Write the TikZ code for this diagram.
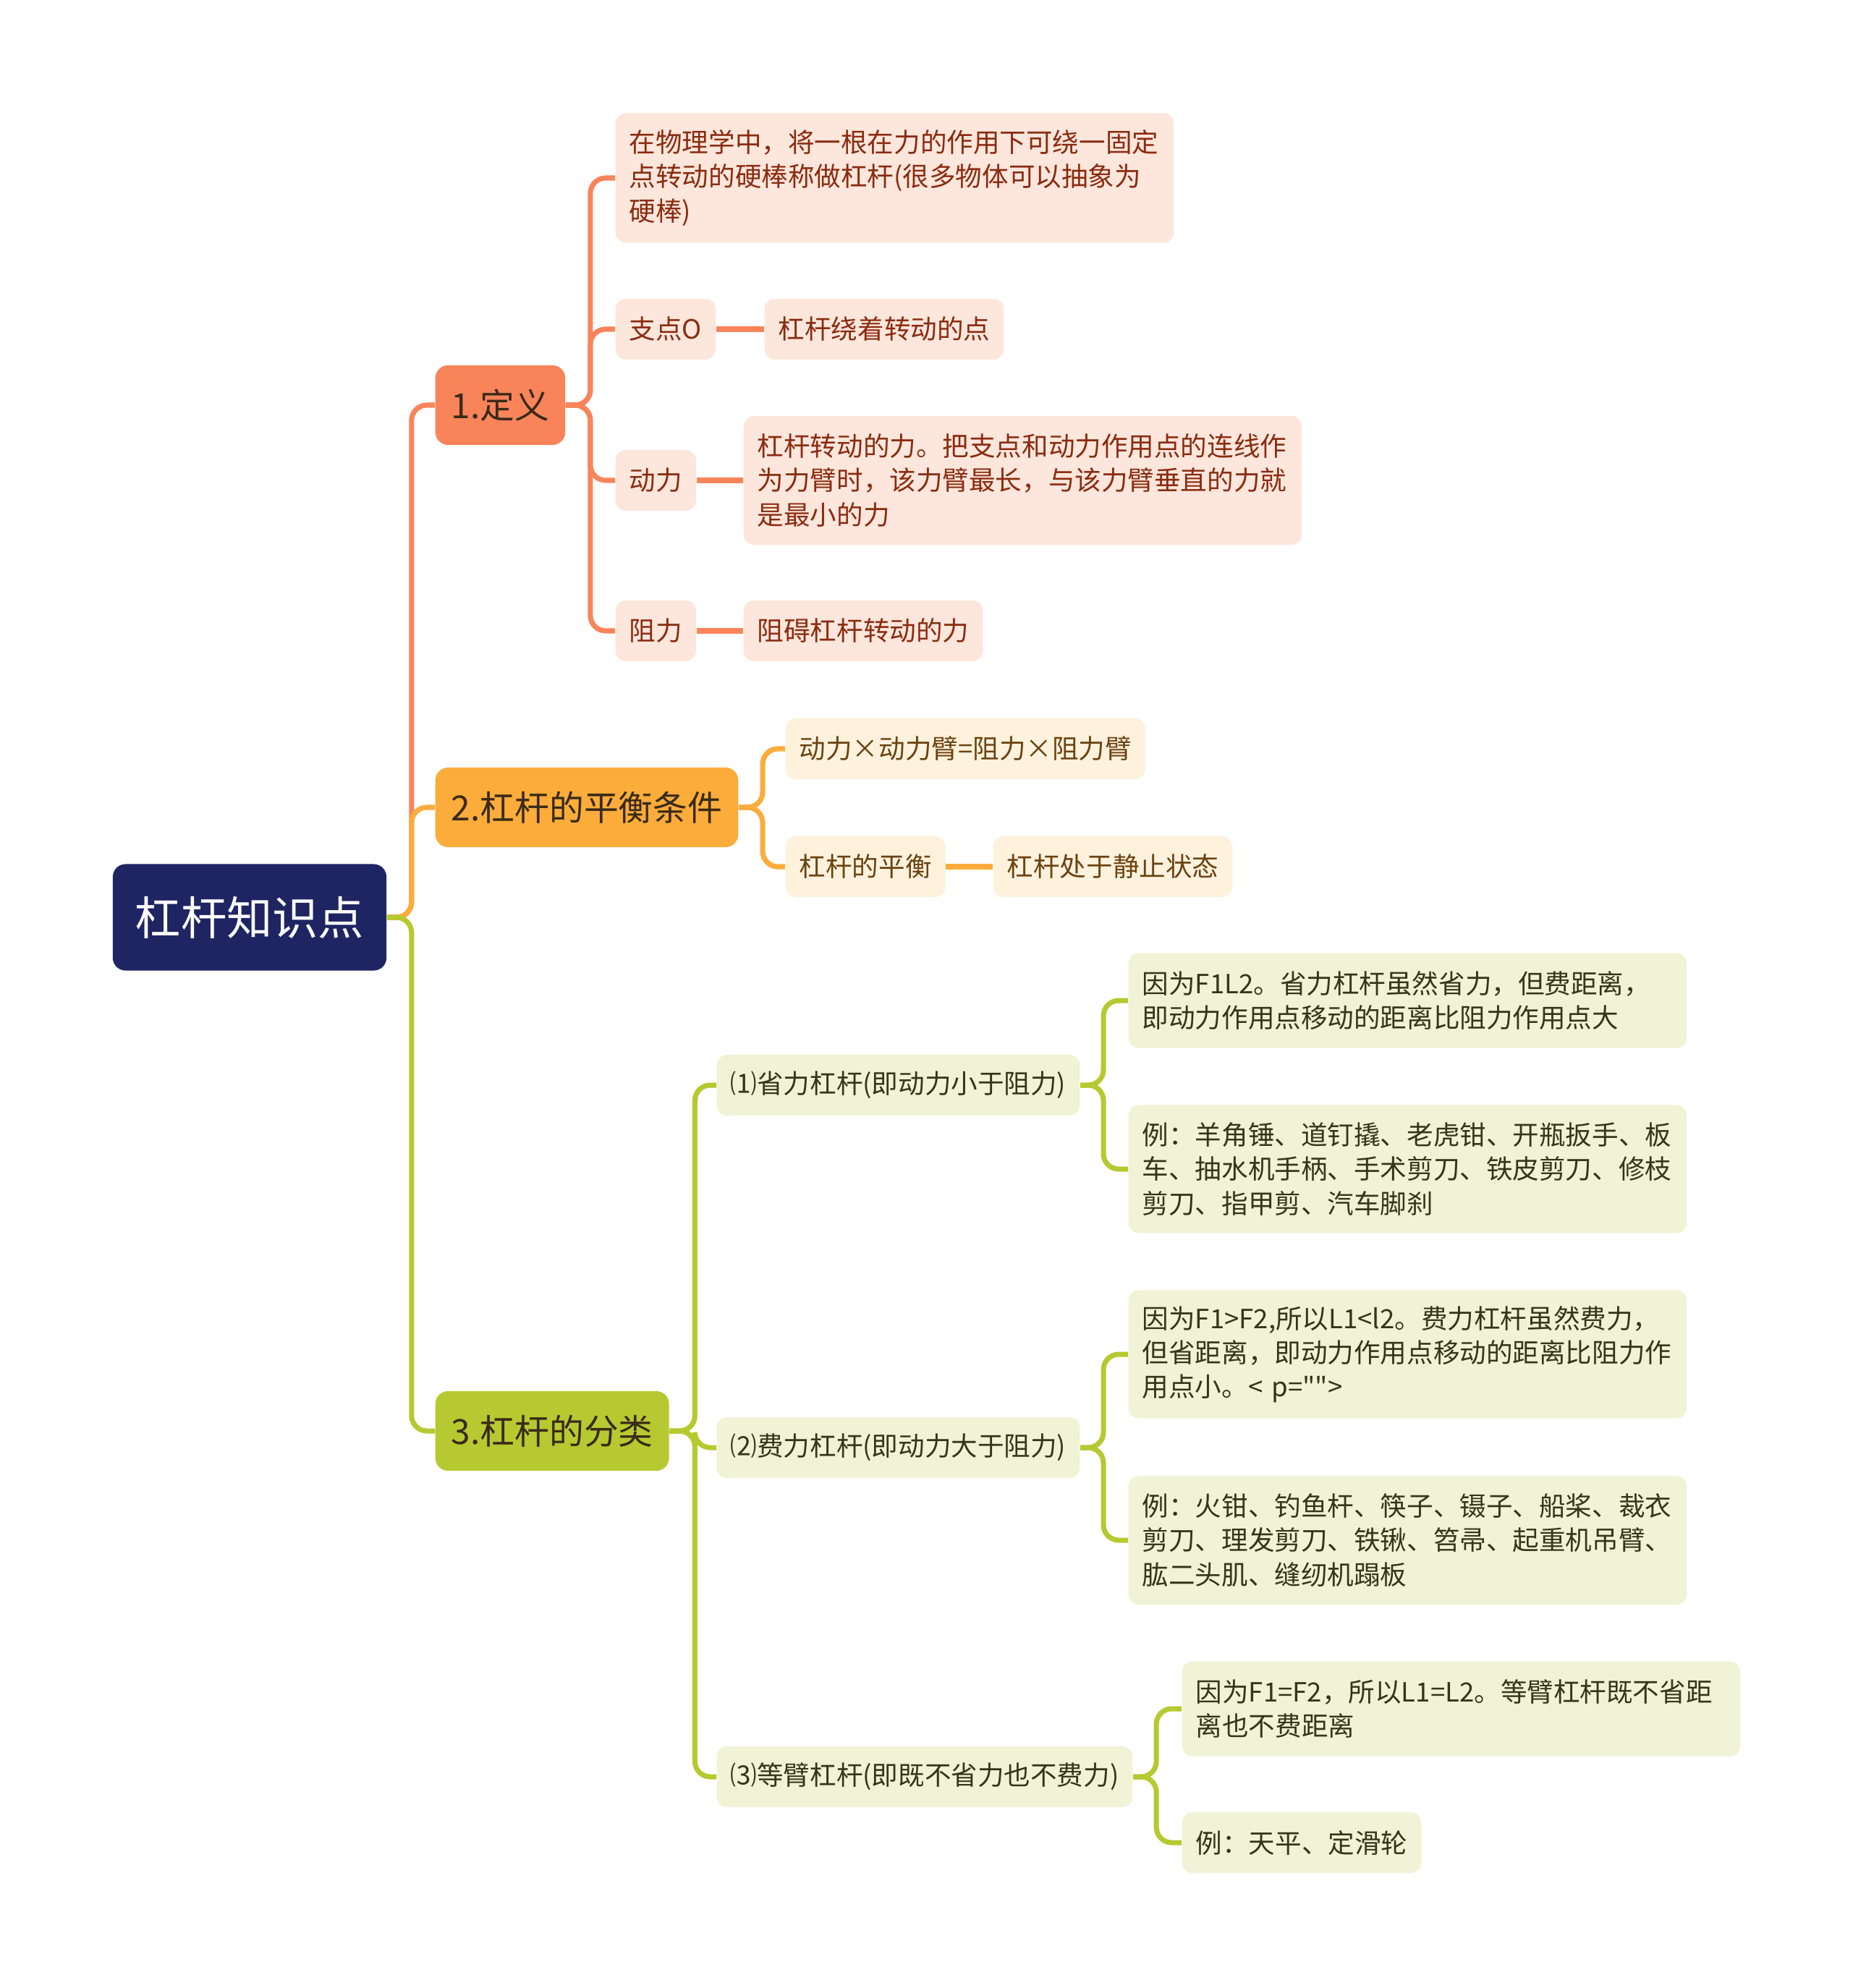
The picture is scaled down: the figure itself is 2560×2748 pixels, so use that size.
\documentclass[tikz,border=0pt]{standalone}
\usepackage{fontspec}
\setmainfont{Noto Sans CJK SC}[Ligatures=TeXOff]
\usepackage{xcolor}
\usepackage{tikz}
\usetikzlibrary{positioning}
\definecolor{rootBlue}{HTML}{1F2462}
\definecolor{defOrange}{HTML}{F9845A}
\definecolor{defLight}{HTML}{FDE6DC}
\definecolor{defText}{HTML}{8A2B0F}
\definecolor{balAmber}{HTML}{FBAC3A}
\definecolor{balLight}{HTML}{FEF2DD}
\definecolor{balText}{HTML}{6B4210}
\definecolor{clsGreen}{HTML}{B6C930}
\definecolor{clsLight}{HTML}{F0F3D6}
\definecolor{clsText}{HTML}{35351A}
\definecolor{mainText}{HTML}{3A2A18}
\tikzset{
  rootbox/.style={fill=rootBlue, text=white, rounded corners=5pt, minimum width=3.78cm, minimum height=1.47cm, font=\fontsize{18}{22}\selectfont},
  mainbox/.style={anchor=west, rounded corners=5pt, inner xsep=0.22cm, minimum height=1.1cm, text=mainText, font=\fontsize{13.6}{16}\selectfont},
  leafbox/.style={anchor=west, rounded corners=4pt, inner xsep=0.19cm, minimum height=0.84cm, font=\fontsize{10.4}{13.45}\selectfont},
  textblock/.style={text width=7.33cm, align=left},
  defleaf/.style={leafbox, fill=defLight, text=defText},
  balleaf/.style={leafbox, fill=balLight, text=balText},
  clsleaf/.style={leafbox, fill=clsLight, text=clsText},
  link/.style={line width=2pt, rounded corners=6pt},
}
\begin{document}
\begin{tikzpicture}[x=0.01cm, y=-0.01cm]
\useasboundingbox (0,0) rectangle (2560,2748);
% root and main branches
\node[rootbox] (root) at (345,1268) {杠杆知识点};
\node[mainbox, fill=defOrange] (defn) at (601,560) {1.定义};
\node[mainbox, fill=balAmber] (bal) at (601,1116) {2.杠杆的平衡条件};
\node[mainbox, fill=clsGreen] (cls) at (601,1978) {3.杠杆的分类};
% 1. definition
\node[defleaf, textblock, minimum height=1.79cm] (lever) at (850,246) {在物理学中，将一根在力的作用下可绕一固定\\点转动的硬棒称做杠杆(很多物体可以抽象为\\硬棒)};
\node[defleaf] (pivot) at (850,455) {支点O};
\node[defleaf] (pivotd) at (1056,455) {杠杆绕着转动的点};
\node[defleaf] (effort) at (850,664) {动力};
\node[defleaf, textblock, minimum height=1.78cm] (effortd) at (1027,664) {杠杆转动的力。把支点和动力作用点的连线作\\为力臂时，该力臂最长，与该力臂垂直的力就\\是最小的力};
\node[defleaf] (resist) at (850,872) {阻力};
\node[defleaf] (resistd) at (1027,872) {阻碍杠杆转动的力};
% 2. balance
\node[balleaf] (law) at (1085,1035) {动力×动力臂=阻力×阻力臂};
\node[balleaf] (eq) at (1085,1198) {杠杆的平衡};
\node[balleaf] (eqd) at (1372,1198) {杠杆处于静止状态};
% 3. classes
\node[clsleaf] (save) at (990,1500) {⑴省力杠杆(即动力小于阻力)};
\node[clsleaf, textblock, minimum height=1.31cm] (saved) at (1559,1383) {因为F1L2。省力杠杆虽然省力，但费距离，\\即动力作用点移动的距离比阻力作用点大};
\node[clsleaf, textblock, minimum height=1.77cm] (savex) at (1559,1616) {例：羊角锤、道钉撬、老虎钳、开瓶扳手、板\\车、抽水机手柄、手术剪刀、铁皮剪刀、修枝\\剪刀、指甲剪、汽车脚刹};
\node[clsleaf] (waste) at (990,2001) {⑵费力杠杆(即动力大于阻力)};
\node[clsleaf, textblock, minimum height=1.77cm] (wasted) at (1559,1872) {因为F1>F2,所以L1<l2。费力杠杆虽然费力，\\但省距离，即动力作用点移动的距离比阻力作\\用点小。< p="">};
\node[clsleaf, textblock, minimum height=1.78cm] (wastex) at (1559,2129) {例：火钳、钓鱼杆、筷子、镊子、船桨、裁衣\\剪刀、理发剪刀、铁锹、笤帚、起重机吊臂、\\肱二头肌、缝纫机蹋板};
\node[clsleaf] (equal) at (990,2456) {⑶等臂杠杆(即既不省力也不费力)};
\node[clsleaf, textblock, minimum height=1.31cm] (equald) at (1633,2362) {因为F1=F2，所以L1=L2。等臂杠杆既不省距\\离也不费距离};
\node[clsleaf] (equalx) at (1633,2547) {例：天平、定滑轮};
% connectors
\draw[link, defOrange] (root.east) -- ++(34,0) |- (defn.west);
\draw[link, balAmber] (root.east) -- ++(34,0) |- (bal.west);
\draw[link, clsGreen] (root.east) -- ++(34,0) |- (cls.west);
\foreach \c in {lever,pivot,effort,resist}
  \draw[link, defOrange] (defn.east) -- ++(34,0) |- (\c.west);
\draw[link, defOrange] (pivot.east) -- (pivotd.west);
\draw[link, defOrange] (effort.east) -- (effortd.west);
\draw[link, defOrange] (resist.east) -- (resistd.west);
\foreach \c in {law,eq}
  \draw[link, balAmber] (bal.east) -- ++(33,0) |- (\c.west);
\draw[link, balAmber] (eq.east) -- (eqd.west);
\foreach \c in {save,waste,equal}
  \draw[link, clsGreen] (cls.east) -- ++(35,0) |- (\c.west);
\foreach \c in {saved,savex}
  \draw[link, clsGreen] (save.east) -- ++(32,0) |- (\c.west);
\foreach \c in {wasted,wastex}
  \draw[link, clsGreen] (waste.east) -- ++(32,0) |- (\c.west);
\foreach \c in {equald,equalx}
  \draw[link, clsGreen] (equal.east) -- ++(32,0) |- (\c.west);
\end{tikzpicture}
\end{document}
